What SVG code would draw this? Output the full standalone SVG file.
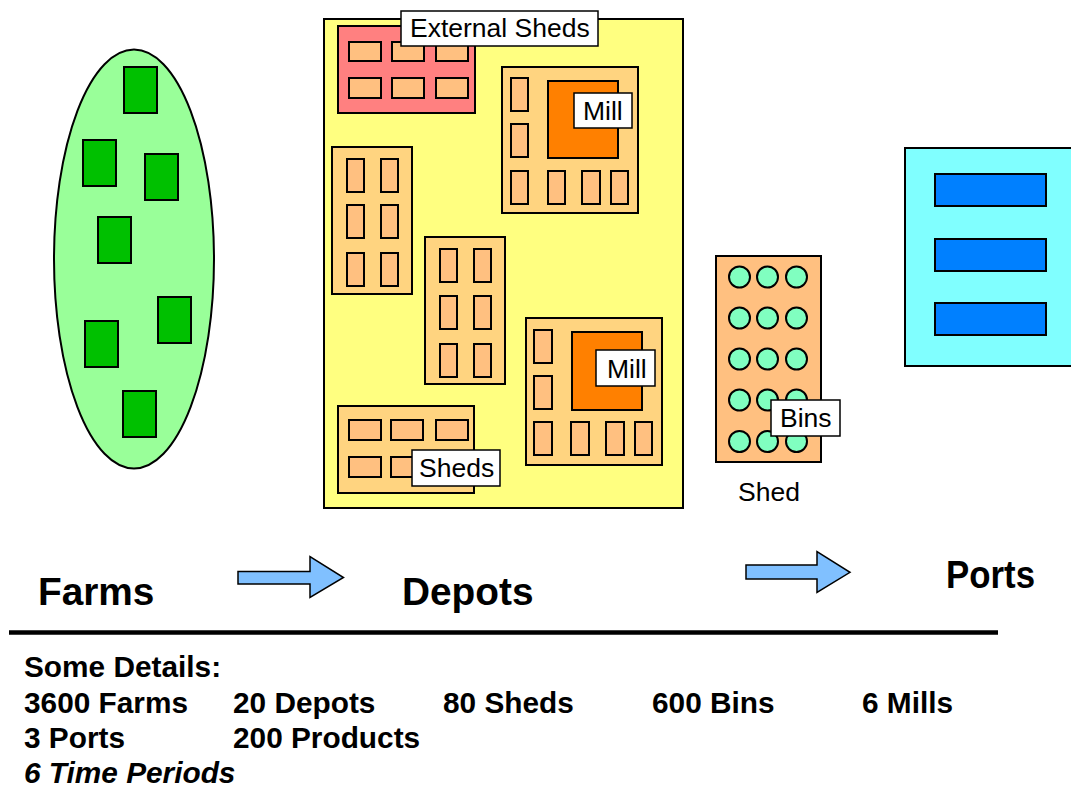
<svg xmlns="http://www.w3.org/2000/svg" width="1071" height="791" viewBox="0 0 1071 791">
<style>
.s{stroke:#000;stroke-width:2}
.farm{fill:#00C000}
.sm{fill:#FFC080}
.box{fill:#FFD480}
.mill{fill:#FF8000}
.bin{fill:#80FFC0}
.port{fill:#0080FF}
.lbl{fill:#fff;stroke:#000;stroke-width:1.5}
.t{font-family:"Liberation Sans",Arial,sans-serif;font-size:26.5px;fill:#000}
.big{font-family:"Liberation Sans",Arial,sans-serif;font-size:38.8px;font-weight:bold;fill:#000}
.d{font-family:"Liberation Sans",Arial,sans-serif;font-size:29.8px;font-weight:bold;fill:#000}
.arr{fill:#80C0FF;stroke:#000;stroke-width:1.5}
</style>
<rect width="1071" height="791" fill="#fff"/>

<g id="farms">
  <ellipse class="s" cx="134" cy="259" rx="80" ry="209.5" fill="#99FF99"/>
  <rect class="s farm" x="124" y="67" width="33" height="46"/>
  <rect class="s farm" x="83" y="140" width="33" height="46"/>
  <rect class="s farm" x="145" y="154" width="33" height="46"/>
  <rect class="s farm" x="98" y="217" width="33" height="46"/>
  <rect class="s farm" x="158" y="297" width="33" height="46"/>
  <rect class="s farm" x="85" y="321" width="33" height="46"/>
  <rect class="s farm" x="123" y="391" width="33" height="46"/>
</g>

<g id="depot">
  <rect class="s" x="324" y="19" width="359" height="489" fill="#FFFF80"/>
  <g id="external-sheds">
    <rect class="s" x="338" y="26" width="137" height="87" fill="#FF8080"/>
    <rect class="s sm" x="349" y="42" width="32" height="19"/>
    <rect class="s sm" x="392" y="42" width="32" height="19"/>
    <rect class="s sm" x="436" y="42" width="32" height="19"/>
    <rect class="s sm" x="349" y="78" width="32" height="20"/>
    <rect class="s sm" x="392" y="78" width="32" height="20"/>
    <rect class="s sm" x="436" y="78" width="32" height="20"/>
    <rect class="lbl" x="401" y="11" width="197" height="35"/>
    <text class="t" x="410" y="37">External Sheds</text>
  </g>
  <g id="mill-1">
    <rect class="s box" x="502" y="67" width="136" height="146"/>
    <rect class="s sm" x="511" y="78" width="17" height="33"/>
    <rect class="s sm" x="511" y="124" width="17" height="33"/>
    <rect class="s sm" x="511" y="171" width="17" height="33"/>
    <rect class="s sm" x="548" y="171" width="17" height="33"/>
    <rect class="s sm" x="582" y="171" width="18" height="33"/>
    <rect class="s sm" x="611" y="171" width="17" height="33"/>
    <rect class="s mill" x="548" y="81" width="70" height="77"/>
    <rect class="lbl" x="574" y="93" width="58" height="35"/>
    <text class="t" x="583" y="120">Mill</text>
  </g>
  <g id="shed-left">
    <rect class="s box" x="332" y="147" width="80" height="147"/>
    <rect class="s sm" x="347" y="159" width="17" height="33"/>
    <rect class="s sm" x="381" y="159" width="17" height="33"/>
    <rect class="s sm" x="347" y="205" width="17" height="33"/>
    <rect class="s sm" x="381" y="205" width="17" height="33"/>
    <rect class="s sm" x="347" y="253" width="17" height="33"/>
    <rect class="s sm" x="381" y="253" width="17" height="33"/>
  </g>
  <g id="shed-middle">
    <rect class="s box" x="425" y="237" width="80" height="147"/>
    <rect class="s sm" x="440" y="249" width="17" height="33"/>
    <rect class="s sm" x="474" y="249" width="17" height="33"/>
    <rect class="s sm" x="440" y="296" width="17" height="33"/>
    <rect class="s sm" x="474" y="296" width="17" height="33"/>
    <rect class="s sm" x="440" y="344" width="17" height="33"/>
    <rect class="s sm" x="474" y="344" width="17" height="33"/>
  </g>
  <g id="mill-2">
    <rect class="s box" x="526" y="318" width="136" height="147"/>
    <rect class="s sm" x="534" y="330" width="18" height="33"/>
    <rect class="s sm" x="534" y="376" width="18" height="33"/>
    <rect class="s sm" x="534" y="422" width="18" height="33"/>
    <rect class="s sm" x="571" y="422" width="18" height="33"/>
    <rect class="s sm" x="606" y="422" width="18" height="33"/>
    <rect class="s sm" x="635" y="422" width="17" height="33"/>
    <rect class="s mill" x="572" y="332" width="70" height="78"/>
    <rect class="lbl" x="596" y="350" width="59" height="36"/>
    <text class="t" x="607" y="378">Mill</text>
  </g>
  <g id="sheds-bottom">
    <rect class="s box" x="338" y="406" width="136" height="87"/>
    <rect class="s sm" x="349" y="420" width="32" height="20"/>
    <rect class="s sm" x="391" y="420" width="32" height="20"/>
    <rect class="s sm" x="436" y="420" width="32" height="20"/>
    <rect class="s sm" x="349" y="457" width="32" height="20"/>
    <rect class="s sm" x="391" y="457" width="32" height="20"/>
    <rect class="lbl" x="412" y="450" width="88" height="36"/>
    <text class="t" x="419" y="477">Sheds</text>
  </g>
</g>

<g id="shed">
  <rect class="s" x="716" y="256" width="105" height="206" fill="#FFC080"/>
  <circle class="s bin" cx="739.5" cy="277" r="10.5"/>
  <circle class="s bin" cx="767.5" cy="277" r="10.5"/>
  <circle class="s bin" cx="796.5" cy="277" r="10.5"/>
  <circle class="s bin" cx="739.5" cy="318" r="10.5"/>
  <circle class="s bin" cx="767.5" cy="318" r="10.5"/>
  <circle class="s bin" cx="796.5" cy="318" r="10.5"/>
  <circle class="s bin" cx="739.5" cy="359" r="10.5"/>
  <circle class="s bin" cx="767.5" cy="359" r="10.5"/>
  <circle class="s bin" cx="796.5" cy="359" r="10.5"/>
  <circle class="s bin" cx="739.5" cy="400" r="10.5"/>
  <circle class="s bin" cx="767.5" cy="400" r="10.5"/>
  <circle class="s bin" cx="796.5" cy="400" r="10.5"/>
  <circle class="s bin" cx="739.5" cy="441.5" r="10.5"/>
  <circle class="s bin" cx="767.5" cy="441.5" r="10.5"/>
  <circle class="s bin" cx="796.5" cy="441.5" r="10.5"/>
  <rect class="lbl" x="771" y="400" width="69" height="36"/>
  <text class="t" x="780" y="427">Bins</text>
  <text class="t" x="738" y="501">Shed</text>
</g>

<g id="ports">
  <rect class="s" x="905" y="148" width="180" height="218" fill="#80FFFF"/>
  <rect class="s port" x="935" y="174" width="111" height="32"/>
  <rect class="s port" x="935" y="239" width="111" height="32"/>
  <rect class="s port" x="935" y="303" width="111" height="32"/>
</g>

<g id="connectors">
  <polygon class="arr" points="238,571.5 310,571.5 310,556.5 343.5,577.5 310,597.5 310,584 238,584"/>
  <polygon class="arr" points="746,565 817,565 817,551.5 850,572.3 817,592.5 817,579 746,579"/>
</g>

<g id="titles">
  <text class="big" x="38" y="605">Farms</text>
  <text class="big" x="402" y="605">Depots</text>
  <text class="big" x="946" y="588" textLength="89" lengthAdjust="spacingAndGlyphs">Ports</text>
</g>

<line x1="9" y1="632.5" x2="998" y2="632.5" stroke="#000" stroke-width="4.5"/>

<g id="details">
  <text class="d" x="24" y="677">Some Details:</text>
  <text class="d" x="24" y="713">3600 Farms</text>
  <text class="d" x="233" y="713">20 Depots</text>
  <text class="d" x="443" y="713">80 Sheds</text>
  <text class="d" x="652" y="713">600 Bins</text>
  <text class="d" x="862" y="713">6 Mills</text>
  <text class="d" x="24" y="748">3 Ports</text>
  <text class="d" x="233" y="748">200 Products</text>
  <text class="d" x="24" y="783" font-style="italic">6 Time Periods</text>
</g>
</svg>
